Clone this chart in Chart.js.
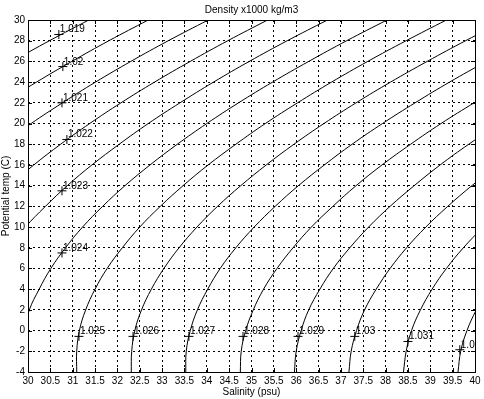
<!DOCTYPE html>
<html>
<head>
<meta charset="utf-8">
<script src="https://cdn.jsdelivr.net/npm/chart.js@4/dist/chart.umd.min.js"></script>
<style>
  html, body { margin: 0; padding: 0; background: #fff; }
</style>
</head>
<body>
<canvas id="tsChart" width="484" height="399"></canvas>
<script>
// potential temperature levels (C) the contours are read at
const temps = [-4, -2, 0, 2, 4, 6, 8, 10, 12, 14, 16, 18, 20, 22, 24, 26, 28, 30];

// salinity (psu) along each density contour at those temps, null = off the plot
const sal1019 = [null, null, null, null, null, null, null, null, null, null, null, null, null, null, 28.87, 29.65, 30.48, 31.36];
const sal1020 = [null, null, null, null, null, null, null, null, null, null, null, null, 28.76, 29.45, 30.19, 30.98, 31.81, 32.69];
const sal1021 = [null, null, null, null, null, null, null, null, null, null, 28.84, 29.43, 30.07, 30.77, 31.51, 32.30, 33.14, 34.03];
const sal1022 = [null, null, null, null, null, null, null, null, 29.10, 29.59, 30.13, 30.73, 31.38, 32.08, 32.83, 33.63, 34.47, 35.36];
const sal1023 = [null, null, null, null, null, null, 29.56, 29.94, 30.39, 30.88, 31.43, 32.04, 32.69, 33.40, 34.15, 34.95, 35.80, 36.70];
const sal1024 = [null, null, 29.92, 30.03, 30.25, 30.51, 30.84, 31.22, 31.67, 32.17, 32.73, 33.34, 34.00, 34.71, 35.47, 36.28, 37.13, 38.03];
const sal1025 = [31.09, 31.09, 31.15, 31.29, 31.50, 31.77, 32.11, 32.50, 32.96, 33.47, 34.03, 34.65, 35.31, 36.03, 36.79, 37.60, 38.46, 39.36];
const sal1026 = [32.31, 32.32, 32.39, 32.54, 32.76, 33.04, 33.38, 33.78, 34.24, 34.76, 35.33, 35.95, 36.62, 37.34, 38.11, 38.93, 39.79, 40.70];
const sal1027 = [33.53, 33.54, 33.63, 33.79, 34.02, 34.30, 34.65, 35.06, 35.53, 36.05, 36.63, 37.25, 37.93, 38.66, 39.43, 40.25, null, null];
const sal1028 = [34.75, 34.77, 34.87, 35.04, 35.27, 35.57, 35.93, 36.34, 36.82, 37.34, 37.92, 38.56, 39.24, 39.98, 40.75, null, null, null];
const sal1029 = [35.96, 36.00, 36.11, 36.28, 36.53, 36.83, 37.20, 37.62, 38.10, 38.64, 39.22, 39.86, 40.55, null, null, null, null, null];
const sal1030 = [37.18, 37.23, 37.35, 37.53, 37.79, 38.10, 38.47, 38.90, 39.39, 39.93, 40.52, null, null, null, null, null, null, null];
const sal1031 = [38.40, 38.46, 38.58, 38.78, 39.04, 39.36, 39.74, 40.18, null, null, null, null, null, null, null, null, null, null];
const sal1032 = [39.62, 39.68, 39.82, 40.03, 40.30, null, null, null, null, null, null, null, null, null, null, null, null, null];

// contour labels (clabel "+" marks)
const labelText = ['1.019', '1.02', '1.021', '1.022', '1.023', '1.024', '1.025', '1.026', '1.027', '1.028', '1.029', '1.03', '1.031', '1.032'];
const labelSal = [30.69, 30.78, 30.76, 30.87, 30.76, 30.76, 31.14, 32.35, 33.60, 34.81, 36.04, 37.31, 38.50, 39.66];
const labelTemp = [28.6, 25.5, 22.0, 18.46, 13.5, 7.5, -0.56, -0.56, -0.56, -0.56, -0.56, -0.56, -1.05, -1.85];

// tick labels
const xTicks = [30, 30.5, 31, 31.5, 32, 32.5, 33, 33.5, 34, 34.5, 35, 35.5, 36, 36.5, 37, 37.5, 38, 38.5, 39, 39.5, 40];
const yTicks = [-4, -2, 0, 2, 4, 6, 8, 10, 12, 14, 16, 18, 20, 22, 24, 26, 28, 30];

const contours = [sal1019, sal1020, sal1021, sal1022, sal1023, sal1024, sal1025,
                  sal1026, sal1027, sal1028, sal1029, sal1030, sal1031, sal1032];

const FONT = '"Liberation Sans", Arial, sans-serif';
Chart.defaults.font.family = FONT;
Chart.defaults.font.size = 10;
Chart.defaults.color = '#000';

const datasets = contours.map(s => ({
  data: temps.map((t, i) => ({ x: s[i], y: t })).filter(p => p.x !== null),
  borderColor: '#000',
  borderWidth: 1,
  pointRadius: 0,
  tension: 0.4,
  fill: false
}));

datasets.push({
  data: labelSal.map((s, i) => ({ x: s, y: labelTemp[i] })),
  showLine: false,
  pointStyle: 'cross',
  pointRadius: 4.5,
  pointBorderColor: '#000',
  pointBorderWidth: 1
});

// box, inward ticks, contour label text and title, matlab style
const frame = {
  id: 'frame',
  afterDatasetsDraw(chart) {
    const { ctx, chartArea: a, scales: { x, y } } = chart;
    ctx.save();
    ctx.strokeStyle = '#000';
    ctx.lineWidth = 1;
    ctx.beginPath();
    xTicks.forEach(v => {
      const px = Math.round(x.getPixelForValue(v)) + 0.5;
      ctx.moveTo(px, a.bottom); ctx.lineTo(px, a.bottom - 4);
      ctx.moveTo(px, a.top); ctx.lineTo(px, a.top + 4);
    });
    yTicks.forEach(v => {
      const py = Math.round(y.getPixelForValue(v)) + 0.5;
      ctx.moveTo(a.left, py); ctx.lineTo(a.left + 4, py);
      ctx.moveTo(a.right, py); ctx.lineTo(a.right - 4, py);
    });
    ctx.stroke();
    ctx.strokeRect(Math.round(a.left) + 0.5, Math.round(a.top) + 0.5,
                   Math.round(a.width), Math.round(a.height));

    ctx.fillStyle = '#000';
    ctx.font = '10px ' + FONT;
    ctx.textAlign = 'center';
    ctx.textBaseline = 'middle';
    ctx.fillText('Density x1000 kg/m3', (a.left + a.right) / 2, 10);

    ctx.beginPath();
    ctx.rect(a.left, a.top, a.width, a.height);
    ctx.clip();
    ctx.textAlign = 'left';
    ctx.textBaseline = 'alphabetic';
    labelText.forEach((t, i) => {
      ctx.fillText(t, x.getPixelForValue(labelSal[i]) + 1, y.getPixelForValue(labelTemp[i]) - 2);
    });
    ctx.restore();
  }
};

new Chart(document.getElementById('tsChart'), {
  type: 'line',
  data: { datasets },
  plugins: [frame],
  options: {
    responsive: false,
    animation: false,
    layout: { padding: { top: 20, right: 9, left: 0, bottom: 0 } },
    plugins: { legend: { display: false }, tooltip: { enabled: false } },
    scales: {
      x: {
        type: 'linear',
        min: 30,
        max: 40,
        afterBuildTicks: s => { s.ticks = xTicks.map(v => ({ value: v })); },
        afterFit: s => { s.height = 27; },
        ticks: { padding: 3, maxRotation: 0, autoSkip: false, font: { size: 10 }, callback: v => String(v) },
        grid: { color: '#000', lineWidth: 1, drawTicks: false },
        border: { display: false, dash: [2, 3] },
        title: { display: true, text: 'Salinity (psu)', padding: { top: 0, bottom: 1 }, font: { size: 10 } }
      },
      y: {
        type: 'linear',
        min: -4,
        max: 30,
        afterBuildTicks: s => { s.ticks = yTicks.map(v => ({ value: v })); },
        afterFit: s => { s.width = 28; },
        ticks: { padding: 3, autoSkip: false, font: { size: 10 }, callback: v => String(v) },
        grid: { color: '#000', lineWidth: 1, drawTicks: false },
        border: { display: false, dash: [2, 3] },
        title: { display: true, text: 'Potential temp (C)', padding: { top: 0, bottom: 0 }, font: { size: 10 } }
      }
    }
  }
});
</script>
</body>
</html>
